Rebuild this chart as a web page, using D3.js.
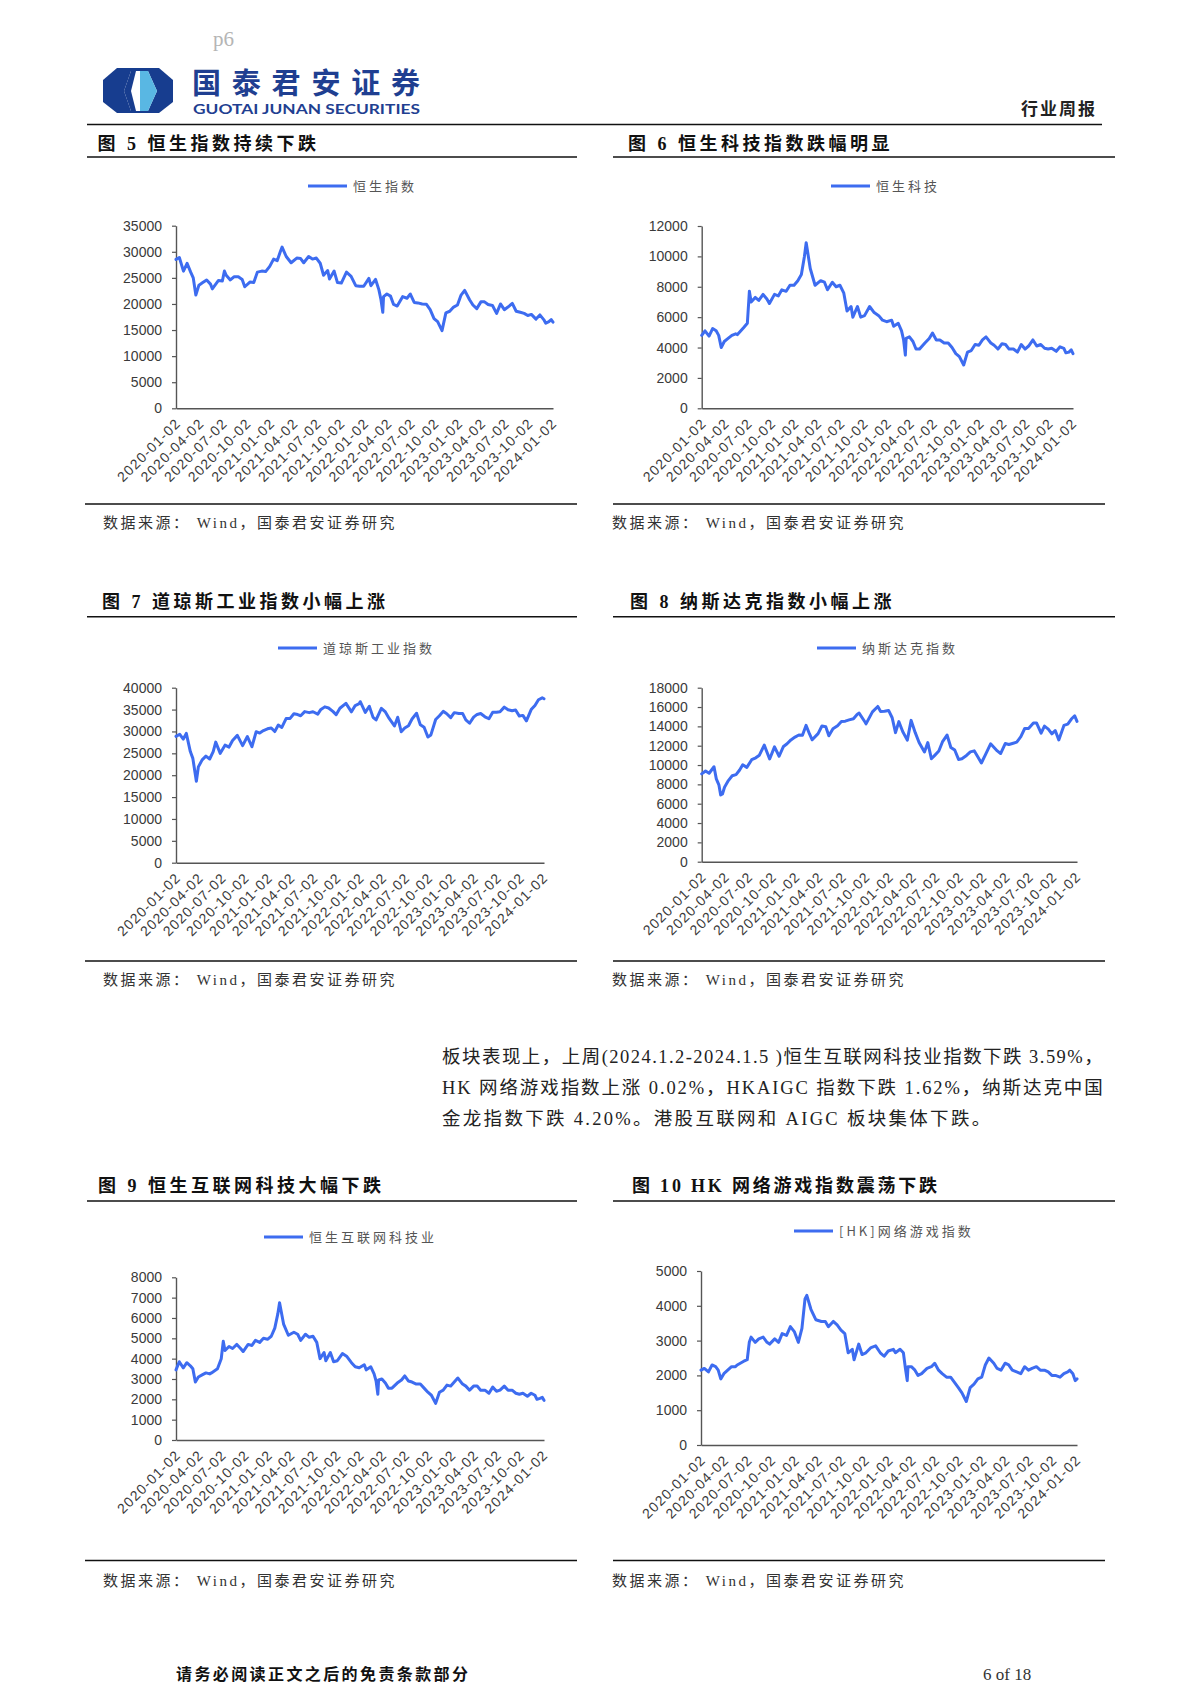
<!DOCTYPE html>
<html><head><meta charset="utf-8">
<script src="https://cdn.jsdelivr.net/npm/d3@7"></script>
<style>body{margin:0;background:#fff}svg{display:block}</style>
</head><body>
<svg id="page" width="1200" height="1698"></svg>
<script>
// ---------------- DATA ----------------
const xTickLabels = ["2020-01-02","2020-04-02","2020-07-02","2020-10-02","2021-01-02","2021-04-02","2021-07-02","2021-10-02","2022-01-02","2022-04-02","2022-07-02","2022-10-02","2023-01-02","2023-04-02","2023-07-02","2023-10-02","2024-01-02"];

const hkDates = [
"2020-01-02","2020-01-15","2020-01-31","2020-02-14","2020-02-28","2020-03-09","2020-03-19","2020-03-31","2020-04-15","2020-04-30","2020-05-15","2020-05-22","2020-06-15","2020-06-30","2020-07-08","2020-07-15","2020-07-31","2020-08-14","2020-08-31","2020-09-15","2020-09-25","2020-10-15","2020-10-30","2020-11-13","2020-11-30","2020-12-15","2020-12-31",
"2021-01-15","2021-01-29","2021-02-10","2021-02-17","2021-03-05","2021-03-24","2021-04-15","2021-04-30","2021-05-12","2021-05-31","2021-06-15","2021-06-30","2021-07-15","2021-07-28","2021-08-13","2021-08-20","2021-09-07","2021-09-20","2021-10-05","2021-10-25","2021-11-12","2021-11-30","2021-12-15","2021-12-31",
"2022-01-20","2022-01-28","2022-02-15","2022-02-28","2022-03-08","2022-03-15","2022-03-18","2022-03-31","2022-04-14","2022-04-26","2022-05-10","2022-05-31","2022-06-17","2022-06-30","2022-07-15","2022-07-29","2022-08-15","2022-08-31","2022-09-15","2022-09-30","2022-10-14","2022-10-31","2022-11-15","2022-11-30","2022-12-15","2022-12-30",
"2023-01-13","2023-01-27","2023-02-15","2023-02-28","2023-03-15","2023-03-31","2023-04-14","2023-04-28","2023-05-15","2023-05-31","2023-06-15","2023-06-30","2023-07-14","2023-07-31","2023-08-15","2023-08-31","2023-09-15","2023-09-29","2023-10-13","2023-10-31","2023-11-15","2023-11-30","2023-12-08","2023-12-20","2023-12-29",
"2024-01-05"];

const hsiValues = [
28540,28900,26300,27800,26100,25000,21700,23600,24100,24600,23800,22900,24500,24400,26300,25500,24600,25200,25200,24700,23300,24200,24100,26100,26300,26200,27200,
28600,28300,30000,30900,29100,27900,28800,28700,27900,29100,28600,28800,27800,25500,26400,24800,26300,24100,24000,26100,25300,23500,23400,23400,
24900,23500,24700,22700,20800,18400,21400,21900,21500,19900,19600,21400,21100,21900,20300,20200,20000,19950,18900,17200,16600,14900,18300,18600,19400,19800,
21700,22600,20800,19800,19100,20400,20400,19900,19700,18200,20000,18900,19400,20100,18600,18400,18200,17800,18000,17100,17900,17000,16300,16600,17000,
16500];

const hstechValues = [
4800,5100,4750,5250,5100,4800,4000,4400,4600,4800,4900,4850,5300,5600,7700,7000,7300,7100,7500,7200,6900,7500,7400,7800,7700,8100,8100,
8400,8800,10000,10900,9200,8100,8400,8300,7800,8300,8000,8100,7600,6400,6700,6000,6700,6000,6100,6700,6300,6100,5800,5700,
5800,5400,5600,5100,4500,3500,4600,4700,4400,3900,3900,4300,4600,4950,4500,4500,4300,4300,4000,3600,3400,2850,3700,3800,4200,4150,
4500,4700,4300,4150,3900,4250,4200,3900,3900,3700,4200,3900,4100,4500,4100,4200,3950,3900,3950,3750,4050,3950,3650,3700,3850,
3600];

const hsiiiValues = [
3450,3850,3550,3800,3650,3500,2850,3100,3200,3300,3250,3300,3500,4000,4850,4400,4600,4500,4700,4500,4350,4700,4650,4900,4800,5000,4950,
5100,5500,6200,6750,5700,5150,5300,5200,4900,5200,5050,5100,4800,4000,4300,3900,4300,3850,3900,4250,4100,3800,3600,3550,
3700,3450,3600,3250,2900,2250,2950,3000,2800,2550,2550,2800,2950,3150,2900,2850,2750,2750,2550,2350,2200,1800,2350,2450,2700,2650,
2850,3050,2750,2650,2450,2650,2650,2450,2450,2300,2600,2400,2450,2650,2450,2450,2300,2250,2300,2150,2300,2200,2000,2050,2100,
1950];

const gamingValues = [
2150,2200,2100,2300,2250,2150,1900,2050,2150,2250,2250,2300,2400,2450,2950,3100,2950,3050,3100,2950,2900,3050,2950,3200,3150,3400,3250,
2950,3350,4200,4300,3900,3600,3550,3550,3400,3550,3450,3300,3200,2650,2750,2450,2900,2600,2650,2800,2850,2650,2550,2700,
2750,2650,2750,2650,2200,1850,2250,2250,2150,2000,2050,2200,2250,2350,2150,2050,1950,1950,1800,1650,1500,1250,1650,1750,1900,1950,
2300,2500,2350,2200,2150,2350,2300,2150,2100,2050,2250,2150,2200,2250,2150,2150,2100,2000,2000,1950,2050,2100,2150,2050,1850,
1900];

const djDates = [
"2020-01-02","2020-01-17","2020-01-31","2020-02-12","2020-02-28","2020-03-09","2020-03-23","2020-03-31","2020-04-15","2020-04-30","2020-05-15","2020-05-29","2020-06-08","2020-06-26","2020-07-15","2020-07-31","2020-08-14","2020-09-02","2020-09-23","2020-10-12","2020-10-30","2020-11-16","2020-11-30","2020-12-15","2020-12-31",
"2021-01-15","2021-01-29","2021-02-12","2021-02-26","2021-03-15","2021-03-31","2021-04-15","2021-04-30","2021-05-12","2021-05-28","2021-06-15","2021-06-30","2021-07-19","2021-07-30","2021-08-16","2021-08-31","2021-09-17","2021-09-30","2021-10-15","2021-11-08","2021-11-30","2021-12-15","2021-12-31",
"2022-01-04","2022-01-24","2022-02-09","2022-02-24","2022-03-08","2022-03-29","2022-04-14","2022-04-29","2022-05-20","2022-06-02","2022-06-16","2022-06-30","2022-07-15","2022-07-29","2022-08-16","2022-08-31","2022-09-15","2022-09-30","2022-10-12","2022-10-31","2022-11-15","2022-11-30","2022-12-13","2022-12-30",
"2023-01-13","2023-01-31","2023-02-15","2023-02-28","2023-03-15","2023-03-31","2023-04-14","2023-04-28","2023-05-15","2023-05-31","2023-06-15","2023-06-30","2023-07-14","2023-07-31","2023-08-15","2023-08-31","2023-09-14","2023-09-29","2023-10-13","2023-10-27","2023-11-15","2023-11-30","2023-12-14","2023-12-29",
"2024-01-05"];
const djValues = [
28870,29350,28260,29550,25400,23850,18600,21900,23500,24350,23700,25400,27570,25000,26870,26430,27930,29100,26760,28840,26500,29950,29640,30200,30600,
30800,29980,31460,30930,32950,32980,34040,33870,33590,34530,34300,34500,33960,34940,35620,35360,34580,33840,35300,36430,34480,35930,36340,
36800,34360,35770,33220,32630,35290,34450,32980,31260,33250,29930,30780,31290,32850,34150,31510,30960,28730,29210,32730,33590,34590,34110,33150,
34300,34090,34130,32660,31870,33270,33890,34100,33350,32900,34400,34410,34510,35560,34950,34720,34900,33510,33670,32420,34990,35950,37250,37690,
37470];

const ndDates = [
"2020-01-02","2020-01-17","2020-01-31","2020-02-19","2020-02-28","2020-03-09","2020-03-16","2020-03-23","2020-03-31","2020-04-15","2020-04-30","2020-05-15","2020-05-29","2020-06-10","2020-06-26","2020-07-15","2020-07-31","2020-08-14","2020-09-02","2020-09-23","2020-10-12","2020-10-30","2020-11-16","2020-11-30","2020-12-15","2020-12-31",
"2021-01-15","2021-01-29","2021-02-12","2021-02-26","2021-03-08","2021-03-31","2021-04-15","2021-04-30","2021-05-12","2021-05-28","2021-06-15","2021-06-30","2021-07-15","2021-07-30","2021-08-16","2021-08-31","2021-09-07","2021-09-30","2021-10-04","2021-10-29","2021-11-19","2021-11-30","2021-12-15","2021-12-31",
"2022-01-14","2022-01-27","2022-02-09","2022-02-24","2022-03-14","2022-03-29","2022-04-14","2022-04-29","2022-05-20","2022-06-02","2022-06-16","2022-06-30","2022-07-15","2022-07-29","2022-08-16","2022-08-31","2022-09-15","2022-09-30","2022-10-13","2022-10-31","2022-11-15","2022-11-30","2022-12-15","2022-12-28",
"2023-01-13","2023-02-02","2023-02-28","2023-03-13","2023-03-31","2023-04-14","2023-04-28","2023-05-15","2023-05-31","2023-06-15","2023-06-30","2023-07-19","2023-07-31","2023-08-18","2023-08-31","2023-09-15","2023-09-29","2023-10-12","2023-10-26","2023-11-15","2023-11-30","2023-12-14","2023-12-27",
"2024-01-05"];
const ndValues = [
9090,9390,9150,9820,8570,7950,6900,7000,7700,8390,8890,9010,9490,10020,9760,10550,10750,11020,12060,10630,11880,10910,11920,12200,12600,12890,
13110,13070,14100,13190,12610,13250,14040,13960,13030,13750,14070,14500,14540,14670,14790,15260,15370,14450,14260,15500,16060,15540,15560,15650,
14890,13350,14490,13470,12580,14620,13350,12330,11350,12320,10650,11030,11450,12390,13100,11820,11550,10580,10650,10990,11360,11470,10810,10210,
11080,12200,11460,11190,12220,12120,12230,12370,12940,13780,13790,14350,14350,13290,14030,13710,13220,13570,12600,14100,14230,14760,15100,
14520];

const chartTitles = ["图 5 恒生指数持续下跌","图 6 恒生科技指数跌幅明显","图 7 道琼斯工业指数小幅上涨","图 8 纳斯达克指数小幅上涨","图 9 恒生互联网科技大幅下跌","图 10 HK 网络游戏指数震荡下跌"];
const legendNames = ["恒生指数","恒生科技","道琼斯工业指数","纳斯达克指数","恒生互联网科技业","[HK]网络游戏指数"];
const yMaxes = [35000,12000,40000,18000,8000,5000];
const ySteps = [5000,2000,5000,2000,1000,1000];
const sourceText = "数据来源： Wind，国泰君安证券研究";
const paragraphLines = [
"板块表现上，上周(2024.1.2-2024.1.5 )恒生互联网科技业指数下跌 3.59%，",
"HK 网络游戏指数上涨 0.02%，HKAIGC 指数下跌 1.62%，纳斯达克中国",
"金龙指数下跌 4.20%。港股互联网和 AIGC 板块集体下跌。"];

// ---------------- LAYOUT ----------------
const seriesList = [
  {dates: hkDates, values: hsiValues},
  {dates: hkDates, values: hstechValues},
  {dates: djDates, values: djValues},
  {dates: ndDates, values: ndValues},
  {dates: hkDates, values: hsiiiValues},
  {dates: hkDates, values: gamingValues}
];
const L = {x0:87, x1:577, sx0:85, sx1:577, titleX:[97.5,102,98], legX:[308,278,264], px0:176, px1:[553,544,544], srcX:103};
const R = {x0:613, x1:1115, sx0:613, sx1:1105, titleX:[628,630,632], legX:[831,817,794], px0:[701.7,701.7,701], px1:[1073,1077,1077], srcX:612};
const rows = [
  {titleY:150, titleLine:157, legY:[186,186], yTop:[225.7,226], yBot:[408.3,408.3], srcLine:504, srcY:528},
  {titleY:608, titleLine:616.7, legY:[648,648], yTop:[687.7,687.7], yBot:[862.7,861.7], srcLine:961, srcY:985},
  {titleY:1191.5, titleLine:1201, legY:[1237,1231], yTop:[1277.3,1271], yBot:[1440,1445], srcLine:1560.5, srcY:1586}
];
const titleSpacing = [3.5,3.5,3.5,3.5,3.5,2.8];

const BLUE = "#3d6cf0";
const svg = d3.select("#page");
const parse = d3.timeParse("%Y-%m-%d");
const fmt = d3.timeFormat("%Y-%m-%d");
const CJK = "'Noto Sans CJK SC','Noto Sans',sans-serif";
const SERIF = "'Liberation Serif','Noto Sans CJK SC',serif";

// ---------------- HEADER ----------------
svg.append("text").attr("x",213).attr("y",46).attr("font-family","'Liberation Serif',serif")
  .attr("font-size",21).attr("fill","#b5b5b5").text("p6");

const logo = svg.append("g");
logo.append("polygon").attr("points","117,68 159,68 173,80 173,102 159,113 117,113 103,102 103,80").attr("fill","#173d8f");
logo.append("polygon").attr("points","131,71 148,71 157,91 148,111 131,111 124,91").attr("fill","#ffffff");
logo.append("polygon").attr("points","140,71 148,71 157,91 148,111 140,111").attr("fill","#59b7e3");
logo.append("polygon").attr("points","131,71 136,71 131,91 136,111 131,111 124,91").attr("fill","#173d8f");
logo.append("text").attr("x",192).attr("y",94).attr("font-family",CJK).attr("font-weight",700)
  .attr("font-size",29).attr("fill","#1f3f91").attr("textLength",228).attr("lengthAdjust","spacing").text("国泰君安证券");
logo.append("text").attr("x",193).attr("y",114).attr("font-family","Lato,'Open Sans',sans-serif").attr("font-weight",700)
  .attr("font-size",12.5).attr("fill","#1f3f91").attr("textLength",227).attr("lengthAdjust","spacingAndGlyphs").text("GUOTAI JUNAN SECURITIES");

svg.append("text").attr("x",1021).attr("y",115).attr("font-family",CJK).attr("font-weight",700)
  .attr("font-size",17).attr("letter-spacing",2).attr("fill","#222").text("行业周报");
svg.append("line").attr("x1",87).attr("x2",1102).attr("y1",124.5).attr("y2",124.5).attr("stroke","#111").attr("stroke-width",1.5);

// ---------------- CHARTS ----------------
function drawChart(i){
  const row = rows[Math.floor(i/2)], r = Math.floor(i/2), side = i%2;
  const P = side===0 ? L : R;
  const g = svg.append("g");
  // title
  g.append("text").attr("x",P.titleX[r]).attr("y",row.titleY).attr("font-family",SERIF).attr("font-weight",700)
    .attr("font-size",18).attr("letter-spacing",titleSpacing[i]).attr("fill","#111").text(chartTitles[i]);
  g.append("line").attr("x1",P.x0).attr("x2",P.x1).attr("y1",row.titleLine).attr("y2",row.titleLine).attr("stroke","#111").attr("stroke-width",1.5);
  // legend
  const lx = P.legX[r], ly = row.legY[side];
  g.append("line").attr("x1",lx).attr("x2",lx+39).attr("y1",ly).attr("y2",ly).attr("stroke",BLUE).attr("stroke-width",3);
  g.append("text").attr("x",lx+45).attr("y",ly+4.5).attr("font-family",CJK).attr("font-size",13)
    .attr("letter-spacing",3).attr("fill","#555").text(legendNames[i]);
  // scales
  const x0 = side===0 ? P.px0 : P.px0[r];
  const x1 = P.px1[r];
  const x = d3.scaleTime().domain([parse("2020-01-02"), parse("2024-01-05")]).range([x0, x1]);
  const y = d3.scaleLinear().domain([0, yMaxes[i]]).range([row.yBot[side], row.yTop[side]]);
  // y axis
  const ya = g.append("g").attr("transform",`translate(${x0},0)`)
    .call(d3.axisLeft(y).tickValues(d3.range(0, yMaxes[i]+1, ySteps[i])).tickSize(4).tickSizeOuter(0).tickPadding(10).tickFormat(d3.format("d")));
  ya.select(".domain").attr("stroke","#555").attr("stroke-width",1.4);
  ya.selectAll(".tick line").attr("stroke","#555").attr("stroke-width",1.2);
  ya.selectAll(".tick text").attr("font-family","'Liberation Sans',Arial,sans-serif").attr("font-size",14).attr("fill","#3a3a3a");
  // x axis
  const xa = g.append("g").attr("transform",`translate(0,${row.yBot[side]})`)
    .call(d3.axisBottom(x).tickValues(xTickLabels.map(parse)).tickSize(0).tickSizeOuter(0).tickFormat(fmt));
  xa.select(".domain").attr("stroke","#555").attr("stroke-width",1.4);
  xa.selectAll(".tick text").attr("font-family","'Liberation Sans',Arial,sans-serif").attr("font-size",14)
    .attr("letter-spacing",1.1).attr("fill","#3a3a3a").attr("text-anchor","end")
    .attr("x",0).attr("y",0).attr("dy",0).attr("transform","translate(5,16) rotate(-45)");
  // line
  const s = seriesList[i];
  const pts = s.dates.map((d,k)=>({d:parse(d), v:s.values[k]}));
  g.append("path").datum(pts).attr("fill","none").attr("stroke",BLUE).attr("stroke-width",3)
    .attr("stroke-linejoin","round").attr("stroke-linecap","round")
    .attr("d", d3.line().x(p=>x(p.d)).y(p=>y(p.v)));
  // source
  g.append("line").attr("x1",P.sx0).attr("x2",P.sx1).attr("y1",row.srcLine).attr("y2",row.srcLine).attr("stroke","#111").attr("stroke-width",1.5);
  g.append("text").attr("x",P.srcX).attr("y",row.srcY).attr("font-family",SERIF).attr("font-size",15)
    .attr("letter-spacing",2.5).attr("fill","#333").text(sourceText);
}
for (let i=0;i<6;i++) drawChart(i);

// ---------------- PARAGRAPH ----------------
const para = svg.append("g").attr("font-family",SERIF).attr("font-size",18.5).attr("fill","#222");
const paraY = [1063,1094,1125];
paragraphLines.forEach((t,k)=>{
  const tx = para.append("text").attr("x",442).attr("y",paraY[k]).attr("letter-spacing",2.3).text(t);
  if (k<2) tx.attr("textLength",663).attr("lengthAdjust","spacing");
});

// ---------------- FOOTER ----------------
svg.append("text").attr("x",176).attr("y",1680).attr("font-family",CJK).attr("font-weight",700)
  .attr("font-size",16).attr("letter-spacing",2.4).attr("fill","#111").text("请务必阅读正文之后的免责条款部分");
svg.append("text").attr("x",983).attr("y",1680).attr("font-family","'Liberation Serif',serif")
  .attr("font-size",17).attr("fill","#333").text("6 of 18");
</script>
</body></html>
